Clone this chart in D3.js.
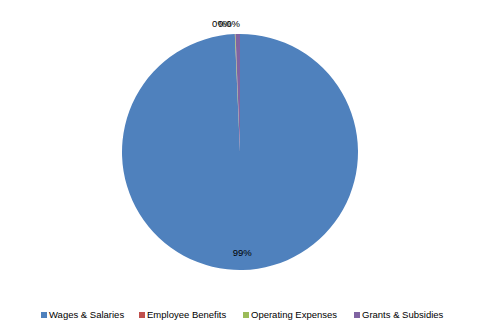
<!DOCTYPE html>
<html>
<head>
<meta charset="utf-8">
<script src="https://cdn.jsdelivr.net/npm/d3@7"></script>
<style>
  body { margin: 0; background: #fff; }
  text { font-family: "Liberation Sans", Arial, sans-serif; font-size: 9.5px; fill: #000; }
</style>
</head>
<body>
<div id="chart"></div>
<script>
var categories = ["Wages & Salaries", "Employee Benefits", "Operating Expenses", "Grants & Subsidies"];
var values     = [99.3, 0.02, 0.08, 0.6];
var labels     = ["99%", "0%", "0%", "0%"];
var colors     = ["#4F81BD", "#C0504D", "#9BBB59", "#8064A2"];

var width  = 480;
var height = 333;
var radius = 118;

var dataset = [];
categories.forEach(function(c, i) {
    dataset.push({label: c, count: values[i], text: labels[i], color: colors[i]});
});

var svg = d3.select('#chart')
    .append('svg')
    .attr('width', width)
    .attr('height', height);

var g = svg.append('g')
    .attr('transform', 'translate(240,152)');

var arc = d3.arc()
    .innerRadius(0)
    .outerRadius(radius);

var inside = d3.arc()
    .innerRadius(radius * 0.85)
    .outerRadius(radius * 0.85);

var outside = d3.arc()
    .innerRadius(radius + 10)
    .outerRadius(radius + 10);

var pie = d3.pie()
    .value(function(d) { return d.count; })
    .sort(null);

var slices = pie(dataset);

g.selectAll('path')
    .data(slices)
    .enter()
    .append('path')
    .attr('d', arc)
    .attr('fill', function(d) { return d.data.color; });

// labels: big slice inside, tiny ones pushed outside and nudged apart
g.selectAll('text.lbl')
    .data(slices)
    .enter()
    .append('text')
    .attr('class', 'lbl')
    .attr('text-anchor', 'middle')
    .attr('dy', '0.35em')
    .attr('transform', function(d, i) {
        if (i === 0) {
            var c = inside.centroid(d);
            return 'translate(' + c[0] + ',' + c[1] + ')';
        }
        var o = outside.centroid(d);
        return 'translate(' + (o[0] - 21 + i * 5.5) + ',' + o[1] + ')';
    })
    .text(function(d) { return d.data.text; });

// legend
var legendPos = [41, 139, 243, 354];
var leg = svg.selectAll('g.leg')
    .data(dataset)
    .enter()
    .append('g')
    .attr('class', 'leg')
    .attr('transform', function(d, i) { return 'translate(' + legendPos[i] + ',315)'; });

leg.append('rect')
    .attr('x', 0)
    .attr('y', -3)
    .attr('width', 6)
    .attr('height', 6)
    .attr('fill', function(d) { return d.color; });

leg.append('text')
    .attr('x', 8)
    .attr('dy', '0.35em')
    .text(function(d) { return d.label; });
</script>
</body>
</html>
